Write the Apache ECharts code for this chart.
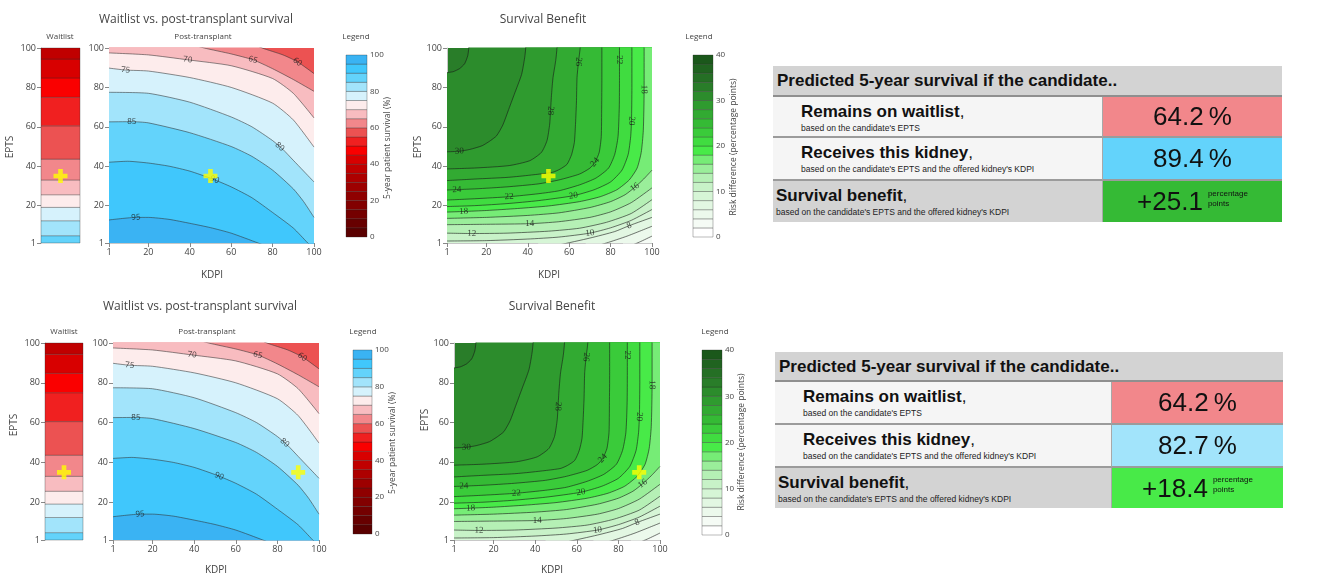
<!DOCTYPE html>
<html>
<head>
<meta charset="utf-8">
<script src="https://cdn.jsdelivr.net/npm/echarts@6/dist/echarts.min.js"></script>
<style>
  html, body { margin: 0; padding: 0; background: #fff; }
  #chart { position: absolute; left: 0; top: 0; width: 1322px; height: 574px; }
  .tb { position: absolute; font-family: "Liberation Sans", Arial, sans-serif; color: #111; }
  .cell { position: absolute; box-sizing: border-box; overflow: hidden; }
  .ttl { font-weight: bold; font-size: 17px; line-height: 20px; white-space: nowrap; }
  .ttl span { font-weight: normal; }
  .note { font-size: 8.5px; line-height: 10px; margin-top: 1px; white-space: nowrap; color: #222; }
  .val { display: flex; align-items: center; justify-content: center; font-size: 26px; }
  .pp { font-size: 8px; line-height: 10px; margin-left: 5px; margin-top: -6px; }
</style>
</head>
<body>
<div id="chart"></div>
<script>
// axis ticks
const kdpiTicks = [1, 20, 40, 60, 80, 100];
const eptsTicks = [1, 20, 40, 60, 80, 100];
const survivalTicks = [0, 20, 40, 60, 80, 100];
const benefitTicks = [0, 10, 20, 30, 40];

// colour bands of the two legends
const survivalBreaks = [0, 5, 10, 15, 20, 25, 30, 35, 40, 45, 50, 55, 60, 65, 70, 75, 80, 85, 90, 95, 100];
const survivalColors = ['#5a0000', '#670000', '#740000', '#820000', '#8f0000', '#9d0000', '#ad0000', '#c00000',
  '#d80000', '#fa0000', '#f02020', '#ec5252', '#f2878b', '#f8bcc0', '#fdecec', '#d6f2fc', '#a2e4fb', '#63d3fb',
  '#40c7fc', '#3ab3f3'];
const benefitBreaks = [0, 2, 4, 6, 8, 10, 12, 14, 16, 18, 20, 22, 24, 26, 28, 30, 32, 34, 36, 38, 40];
const benefitColors = ['#ffffff', '#f5fbf5', '#ecf9ec', '#e2f7e2', '#d6f5d6', '#c8f2c8', '#b5f0b5', '#9aee9a',
  '#76ec76', '#48ea48', '#40dc40', '#3acb3a', '#35ba35', '#32aa32', '#2f9b2f', '#2c8c2c', '#297d29', '#256f25',
  '#206320', '#1b581b'];

// waitlist survival by EPTS (band edges and the band each strip falls in)
const waitlistBreaks = [1, 4.7, 12.3, 19.1, 25.5, 33, 43.6, 60.5, 75, 84.8, 94.4, 100];
const waitlistBands = [85, 80, 75, 70, 65, 60, 55, 50, 45, 40, 35];

// post-transplant survival contours, [KDPI, EPTS]
const post60 = [[1, 125], [50, 113], [65, 105], [75, 100], [85, 96.5], [92, 93], [100, 87]];
const post65 = [[1, 112], [30, 105], [47, 100], [60, 97], [70.6, 94], [80, 89.5], [90, 84], [100, 78]];
const post70 = [[1, 97.5], [20, 96.5], [39, 94], [60, 91], [80, 84.5], [90, 77], [100, 64.5]];
const post75 = [[1, 89.8], [9, 88.8], [20, 88.3], [40, 85], [60, 80], [80, 72], [90, 63.5], [100, 49.7]];
const post80 = [[1, 77.5], [20, 77], [40, 72.5], [60, 65], [70, 60], [80, 53], [85, 48.5], [90, 43], [95, 37.5], [100, 32]];
const post85 = [[1, 62.5], [12, 62.6], [20, 62], [40, 57], [60, 50], [70, 45], [80, 38], [90, 28.5], [95, 22], [100, 14]];
const post90 = [[1, 42], [10, 42.5], [20, 41.6], [30, 40], [40, 37.5], [51, 33.5], [60, 29.5], [70, 24], [80, 16.5], [90, 8.6], [97, 1], [100, -2]];
const post95 = [[1, 12.7], [14, 14], [20, 14], [30, 13], [40, 11], [50, 8.8], [60, 6], [73, 1], [80, -2], [100, -10]];

// survival benefit contours, [KDPI, EPTS]
const gain32 = [[1, 87.5], [4, 88], [7, 89.5], [9.5, 92], [11, 96], [11.5, 100], [11.6, 110], [100, 110]];
const gain30 = [[1, 47.3], [7, 47.6], [12, 48.5], [18, 50.4], [22, 53], [25, 55.5], [28, 61], [30.5, 68], [33.5, 76.5], [37, 86.5], [38.5, 95], [39, 100], [39.1, 110], [100, 110]];
const gain28 = [[1, 38.6], [15, 39.1], [31, 40.3], [41, 42.8], [46.6, 47], [49.3, 53], [50.6, 61.4], [51, 68.2], [51.5, 76.6], [52.2, 85], [53.5, 93.6], [54.1, 100], [54.2, 110], [100, 110]];
const gain26 = [[1, 32.7], [15, 33.5], [30, 34.3], [39, 35.2], [52, 36.9], [55.6, 38.5], [59, 41], [61.2, 46], [62.5, 52], [63, 60], [63.5, 72], [63.8, 85], [64.5, 93], [65.3, 100], [65.4, 110], [100, 110]];
const gain24 = [[1, 27.9], [15, 28.5], [30, 29.5], [45, 31], [55, 33], [65, 36], [70, 39], [72.5, 42], [74.5, 47], [75.5, 55], [75.7, 70], [75.8, 85], [75.8, 100], [75.9, 110], [100, 110]];
const gain22 = [[1, 22.8], [15, 23.5], [31, 24.5], [45, 26], [55, 27.5], [65, 30.5], [73, 34], [79, 39], [82, 46], [83.6, 55], [84.2, 70], [84.3, 85], [84.3, 100], [84.4, 110], [100, 110]];
const gain20 = [[1, 19.5], [15, 20], [30, 21], [45, 22.5], [62, 25], [72, 28], [80, 32], [85.5, 38], [88.5, 46], [89.7, 55], [90.1, 63], [90.3, 80], [90.3, 100], [90.4, 110], [100, 110]];
const gain18 = [[1, 16.7], [9, 17], [20, 17.5], [35, 18.5], [50, 19.8], [65, 22], [75, 24.5], [83, 28], [89, 33], [92.8, 39], [94.8, 47], [95.8, 58], [96.2, 79], [96.2, 100], [96.3, 110], [100, 110]];
const gain16 = [[1, 13.5], [20, 14], [40, 15], [55, 16.3], [70, 19], [80, 22], [87, 25.5], [91.7, 29.3], [96, 33.5], [100, 38]];
const gain14 = [[1, 10.3], [20, 10.5], [41, 10.8], [55, 11.8], [70, 14], [80, 16.8], [90, 21.5], [100, 29]];
const gain12 = [[1, 6], [13, 5.8], [30, 6], [50, 7], [65, 8.5], [78, 11.5], [90, 16], [100, 23]];
const gain10 = [[1, 2], [20, 2.2], [40, 3], [55, 4], [70, 6], [80, 8.7], [90, 12.5], [100, 18]];
const gain8 = [[45, -2], [55, 0], [70, 3.5], [82, 6.8], [89, 9.8], [100, 14]];
const gain6 = [[68, -2], [78, 1], [88, 4.5], [100, 9.5]];
const gain4 = [[86, -2], [94, 1.5], [100, 4.5]];

const postContours = [[60, post60], [65, post65], [70, post70], [75, post75], [80, post80], [85, post85], [90, post90], [95, post95]];
const gainContours = [[32, gain32], [30, gain30], [28, gain28], [26, gain26], [24, gain24], [22, gain22], [20, gain20],
  [18, gain18], [16, gain16], [14, gain14], [12, gain12], [10, gain10], [8, gain8], [6, gain6], [4, gain4]];

// contour labels [KDPI, EPTS, level]
const postLabels = [[14, 14, 95], [52, 33.1, 90], [12, 62.6, 85], [83.5, 49.9, 80], [9, 88.8, 75], [39, 94.1, 70], [70.6, 94, 65], [92, 92.9, 60]];
const gainLabels = [[7, 47.6, 30], [51, 68.2, 28], [64.5, 93, 26], [84.3, 94, 22], [96.2, 79, 18], [90.1, 63, 20], [72.5, 42, 24],
  [91.7, 29.3, 16], [62, 25, 20], [31, 24.5, 22], [5.8, 28.1, 24], [9, 17, 18], [41, 10.8, 14], [13, 5.8, 12], [70, 6, 10], [89, 9.8, 8]];

// the two candidate / kidney pairs and their predictions
const candKdpi = [50, 90];
const candEpts = [35, 35];
const predWaitlist = [64.2, 64.2];
const predTransplant = [89.4, 82.7];
const predBenefit = [25.1, 18.4];

const FONT = '"Open Sans", "DejaVu Sans", sans-serif';
const SERIF = '"Liberation Serif", "DejaVu Serif", serif';
const CROSS = 'path://M4,0H8V4H12V8H8V12H4V8H0V4H4Z';

function bandIndex(breaks, v) {
  for (let i = breaks.length - 2; i >= 0; i--) if (v >= breaks[i]) return i;
  return 0;
}
const survivalColor = (v) => survivalColors[bandIndex(survivalBreaks, v)];
const benefitColor = (v) => benefitColors[bandIndex(benefitBreaks, v)];

const layouts = [
  {
    top: 48, h: 195, wl: [41, 39], post: [109, 205], green: [447, 205],
    leg1: [346, 55, 21, 182], leg2: [693, 55, 20, 182],
    title1: [196, 20], title2: [543, 20], subWl: [60, 37], subPost: [203, 37], subLeg1: [356, 37], subLeg2: [699, 37],
    kdpi1: [212, 275], kdpi2: [549, 275], epts1: [10, 147], epts2: [418, 147], cb1: [388, 148], cb2: [734, 147]
  },
  {
    top: 343, h: 197, wl: [45, 38], post: [113, 206], green: [454, 206],
    leg1: [353, 350, 19, 184], leg2: [702, 350, 20, 185],
    title1: [200, 307], title2: [552, 307], subWl: [64, 332], subPost: [207, 332], subLeg1: [363, 332], subLeg2: [715, 332],
    kdpi1: [216, 570], kdpi2: [552, 570], epts1: [14, 425], epts2: [425, 420], cb1: [393, 443], cb2: [742, 442]
  }
];

const grids = [], xAxes = [], yAxes = [], series = [], graphics = [];

function addGrid(left, top, width, height, bg) {
  grids.push({ left, top, width, height, show: !!bg, backgroundColor: bg || 'transparent', borderWidth: 0 });
  return grids.length - 1;
}
function tickAxis(gi, ticks) {
  return {
    gridIndex: gi, type: 'value', min: 1, max: 100,
    axisLine: { show: true, lineStyle: { color: '#c8c8c8', width: 1 } },
    axisTick: { show: true, length: 4, lineStyle: { color: '#888' }, customValues: ticks },
    axisLabel: { color: '#444', fontSize: 9, fontFamily: FONT, margin: 5, customValues: ticks },
    splitLine: { show: false }
  };
}
function hiddenAxis(gi) {
  return { gridIndex: gi, type: 'value', min: 0, max: 1, show: false };
}
function barAxis(gi, max, ticks) {
  return {
    gridIndex: gi, type: 'value', min: 0, max, position: 'right',
    axisLine: { show: false }, axisTick: { show: false }, splitLine: { show: false },
    axisLabel: { color: '#444', fontSize: 8, fontFamily: FONT, margin: 3, customValues: ticks }
  };
}
function bandSeries(gi, data, colorFn) {
  return {
    type: 'custom', xAxisIndex: gi, yAxisIndex: gi, silent: true, data,
    renderItem: (params, api) => {
      const a = api.coord([0, api.value(2)]);
      const b = api.coord([1, api.value(1)]);
      return {
        type: 'rect', shape: { x: a[0], y: a[1], width: b[0] - a[0], height: b[1] - a[1] },
        style: { fill: colorFn(api.value(3)), stroke: 'rgba(40,40,40,0.45)', lineWidth: 0.7 }
      };
    }
  };
}
function labelAngle(pts, x, y, w, h) {
  const sx = w / 99, sy = h / 99;
  let best = [1, 0], bd = Infinity;
  for (let i = 0; i < pts.length - 1; i++) {
    const ax = pts[i][0] * sx, ay = pts[i][1] * sy, bx = pts[i + 1][0] * sx, by = pts[i + 1][1] * sy;
    const px = x * sx, py = y * sy, dx = bx - ax, dy = by - ay, l2 = dx * dx + dy * dy;
    let t = l2 ? ((px - ax) * dx + (py - ay) * dy) / l2 : 0;
    t = Math.max(0, Math.min(1, t));
    const d = Math.hypot(ax + t * dx - px, ay + t * dy - py);
    if (d < bd) { bd = d; best = [dx, dy]; }
  }
  let a = Math.atan2(best[1], best[0]) * 180 / Math.PI;
  if (a > 90) a -= 180;
  if (a < -90) a += 180;
  if (a > 75) a -= 180;
  return a;
}
function contourSeries(gi, contours, fillFn, lineColor) {
  contours.forEach(([level, pts]) => {
    series.push({
      type: 'line', xAxisIndex: gi, yAxisIndex: gi, data: pts, showSymbol: false, smooth: 0.2, silent: true, z: 2,
      lineStyle: { color: lineColor, width: 0.8 },
      areaStyle: { color: fillFn(level), opacity: 1, origin: 'start' }
    });
  });
}
function labelSeries(gi, labels, contours, w, h, family, size) {
  const lookup = new Map(contours);
  series.push({
    type: 'scatter', xAxisIndex: gi, yAxisIndex: gi, silent: true, z: 6, symbolSize: 1,
    itemStyle: { color: 'rgba(0,0,0,0)' },
    data: labels.map(([x, y, lv]) => ({
      value: [x, y],
      label: { formatter: String(lv), rotate: labelAngle(lookup.get(lv), x, y, w, h) }
    })),
    label: { show: true, position: 'inside', fontSize: size, color: '#1a1a1a', fontFamily: family }
  });
}
function crossSeries(gi, point) {
  series.push({
    type: 'scatter', xAxisIndex: gi, yAxisIndex: gi, silent: true, z: 10,
    symbol: CROSS, symbolSize: 14, itemStyle: { color: '#ffff00' }, data: [point]
  });
}
function txt(text, pos, size, rot, color) {
  graphics.push({
    type: 'text', x: pos[0], y: pos[1], rotation: rot || 0, silent: true,
    style: { text, fill: color || '#444', font: `${size}px ${FONT}`, align: 'center', verticalAlign: 'middle' }
  });
}

layouts.forEach((L, r) => {
  // waitlist strip
  let gi = addGrid(L.wl[0], L.top, L.wl[1], L.h);
  xAxes.push(hiddenAxis(gi));
  yAxes.push(tickAxis(gi, eptsTicks));
  series.push(bandSeries(gi, waitlistBands.map((b, i) => [0, waitlistBreaks[i], waitlistBreaks[i + 1], b]), survivalColor));
  crossSeries(gi, [0.5, candEpts[r]]);

  // post-transplant contour plot
  gi = addGrid(L.post[0], L.top, L.post[1], L.h, survivalColors[11]);
  xAxes.push(tickAxis(gi, kdpiTicks));
  yAxes.push(tickAxis(gi, eptsTicks));
  contourSeries(gi, postContours, (lv) => survivalColor(lv), 'rgba(50,50,50,0.7)');
  labelSeries(gi, postLabels, postContours, L.post[1], L.h, FONT, 8);
  crossSeries(gi, [candKdpi[r], candEpts[r]]);

  // survival legend
  gi = addGrid(L.leg1[0], L.leg1[1], L.leg1[2], L.leg1[3]);
  xAxes.push(hiddenAxis(gi));
  yAxes.push(barAxis(gi, 100, survivalTicks));
  series.push(bandSeries(gi, survivalColors.map((c, i) => [0, survivalBreaks[i], survivalBreaks[i + 1], survivalBreaks[i]]), survivalColor));

  // survival benefit contour plot
  gi = addGrid(L.green[0], L.top, L.green[1], L.h, benefitColors[16]);
  xAxes.push(tickAxis(gi, kdpiTicks));
  yAxes.push(tickAxis(gi, eptsTicks));
  contourSeries(gi, gainContours, (lv) => benefitColor(lv - 1), 'rgba(25,25,25,0.75)');
  labelSeries(gi, gainLabels, gainContours, L.green[1], L.h, SERIF, 9);
  crossSeries(gi, [candKdpi[r], candEpts[r]]);

  // benefit legend
  gi = addGrid(L.leg2[0], L.leg2[1], L.leg2[2], L.leg2[3]);
  xAxes.push(hiddenAxis(gi));
  yAxes.push(barAxis(gi, 40, benefitTicks));
  series.push(bandSeries(gi, benefitColors.map((c, i) => [0, benefitBreaks[i], benefitBreaks[i + 1], benefitBreaks[i]]), benefitColor));

  txt('Waitlist vs. post-transplant survival', L.title1, 12);
  txt('Survival Benefit', L.title2, 12);
  txt('Waitlist', L.subWl, 8);
  txt('Post-transplant', L.subPost, 8);
  txt('Legend', L.subLeg1, 8);
  txt('Legend', L.subLeg2, 8);
  txt('KDPI', L.kdpi1, 10);
  txt('KDPI', L.kdpi2, 10);
  txt('EPTS', L.epts1, 10, Math.PI / 2);
  txt('EPTS', L.epts2, 10, Math.PI / 2);
  txt('5-year patient survival (%)', L.cb1, 8.5, Math.PI / 2);
  txt('Risk difference (percentage points)', L.cb2, 8.5, Math.PI / 2);
});

const chart = echarts.init(document.getElementById('chart'));
chart.setOption({
  animation: false,
  grid: grids,
  xAxis: xAxes,
  yAxis: yAxes,
  series,
  graphic: graphics
});

// prediction tables
const tableBoxes = [
  { left: 773, top: 66, width: 509, head: 31, rows: [41, 43, 41], split: 330 },
  { left: 775, top: 352, width: 508, head: 30, rows: [43, 43, 40], split: 337 }
];
const rowTitles = ['Remains on waitlist', 'Receives this kidney', 'Survival benefit'];
const rowNotes = ["based on the candidate's EPTS", "based on the candidate's EPTS and the offered kidney's KDPI",
  "based on the candidate's EPTS and the offered kidney's KDPI"];

tableBoxes.forEach((B, r) => {
  const tb = document.createElement('div');
  tb.className = 'tb';
  tb.style.cssText = `left:${B.left}px;top:${B.top}px;width:${B.width}px;`;
  let html = `<div class="cell" style="left:0;top:0;width:${B.width}px;height:${B.head}px;background:#d3d3d3;` +
    `border-bottom:2px solid #8f8f8f;padding:5px 0 0 4px;font-weight:bold;font-size:17px;line-height:20px;">` +
    `Predicted 5-year survival if the candidate..</div>`;
  const vals = [predWaitlist[r], predTransplant[r], predBenefit[r]];
  const fills = [survivalColor(vals[0]), survivalColor(vals[1]), benefitColor(vals[2])];
  let y = B.head;
  B.rows.forEach((h, i) => {
    const last = i === 2;
    const bg = last ? '#d3d3d3' : '#f5f5f5';
    const pad = last ? 3 : 28;
    const border = last ? '' : 'border-bottom:2px solid #9b9b9b;';
    html += `<div class="cell" style="left:0;top:${y}px;width:${B.split}px;height:${h}px;background:${bg};${border}` +
      `padding:5px 0 0 ${pad}px;border-right:1px solid #a8a8a8;">` +
      `<div class="ttl">${rowTitles[i]}<span>,</span></div><div class="note">${rowNotes[i]}</div></div>`;
    const text = last
      ? `+${vals[i].toFixed(1)}<span class="pp">percentage<br>points</span>`
      : `${vals[i].toFixed(1)}\u2009%`;
    html += `<div class="cell val" style="left:${B.split}px;top:${y}px;width:${B.width - B.split}px;height:${h}px;` +
      `background:${fills[i]};${border}">${text}</div>`;
    y += h;
  });
  tb.innerHTML = html;
  document.body.appendChild(tb);
});
</script>
</body>
</html>
